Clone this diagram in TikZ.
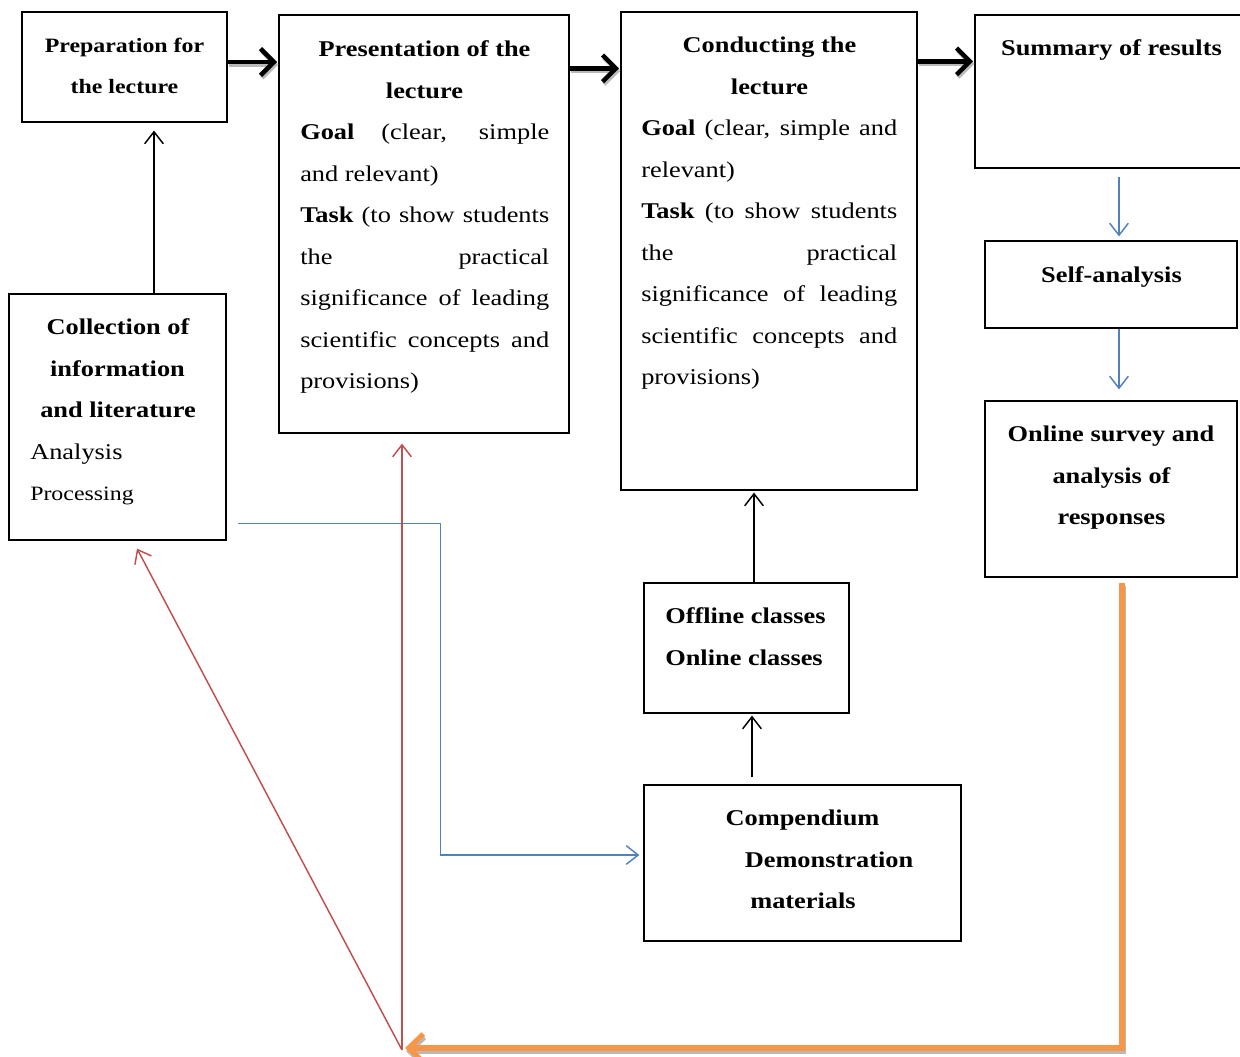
\documentclass[tikz,border=0pt]{standalone}
\usepackage{fontspec}
\setmainfont{Liberation Serif}[FakeStretch=1.17]
\usetikzlibrary{arrows.meta,calc,fit}
\definecolor{redl}{HTML}{C0504D}
\definecolor{bluel}{HTML}{4F81BD}
\definecolor{orangel}{HTML}{F79646}
\newcommand{\fbig}{\fontsize{16.9}{31}\selectfont}
\newcommand{\fsml}{\fontsize{15.3}{31}\selectfont}
\newcommand{\jl}[2]{\makebox[#1][s]{#2}}
\begin{document}
\begin{tikzpicture}[x=0.75pt,y=-0.75pt,
 box/.style={draw, line width=0.9pt, inner sep=0pt},
 ttl/.style={font=\fbig\bfseries, inner sep=0pt, anchor=base},
 ttls/.style={font=\fsml\bfseries, inner sep=0pt, anchor=base},
 bdy/.style={font=\fbig, inner sep=0pt, anchor=base west},
 bdys/.style={font=\fsml, inner sep=0pt, anchor=base west},
 bigarr/.style={line width=3.4pt, -{Straight Barb[length=10pt,width=20pt]}, shorten >=1pt},
 bigshadow/.style={bigarr, draw=gray!55, transform canvas={xshift=1pt,yshift=-1.8pt}},
 thinarr/.style={line width=1.1pt, -{Straight Barb[length=9pt,width=14pt]}},
 redarr/.style={thinarr, draw=redl},
 bluearr/.style={thinarr, draw=bluel},
 orangearr/.style={line width=3.8pt, draw=orangel, -{Straight Barb[length=11pt,width=21pt]}},
 orangeshadow/.style={orangearr, draw=gray!55, transform canvas={xshift=0.8pt,yshift=-2.4pt}}
]
\useasboundingbox (0,0) rectangle (1240,1057);

% boxes
\node[box, fit={(22,12) (227,122)}] (prep) {};
\node[box, fit={(279,15) (569,433)}] (pres) {};
\node[box, fit={(621,12) (917,490)}] (cond) {};
\node[box, fit={(975,15) (1263,168)}] (summ) {};
\node[box, fit={(985,241) (1237,328)}] (self) {};
\node[box, fit={(985,401) (1237,577)}] (online) {};
\node[box, fit={(9,294) (226,540)}] (coll) {};
\node[box, fit={(644,583) (849,713)}] (off) {};
\node[box, fit={(644,785) (961,941)}] (comp) {};

% texts: preparation
\node[ttls] (t1a) at (124.5,52.5) {Preparation for};
\node[ttls] (t1b) at (124.5,93.5) {the lecture};

% presentation
\node[ttl] (t2a) at (424.5,56.5) {Presentation of the};
\node[ttl] (t2b) at (424.5,98) {lecture};
\node[bdy] (t2c) at (300,139.5) {\jl{186.75pt}{\textbf{Goal} (clear, simple}};
\node[bdy] (t2d) at (300,181) {and relevant)};
\node[bdy] (t2e) at (300,222.5) {\jl{186.75pt}{\textbf{Task} (to show students}};
\node[bdy] (t2f) at (300,264) {\jl{186.75pt}{the practical}};
\node[bdy] (t2g) at (300,305.5) {\jl{186.75pt}{significance of leading}};
\node[bdy] (t2h) at (300,347) {\jl{186.75pt}{scientific concepts and}};
\node[bdy] (t2i) at (300,388.5) {provisions)};

% conducting
\node[ttl] (t3a) at (769.5,52.5) {Conducting the};
\node[ttl] (t3b) at (769.5,94) {lecture};
\node[bdy] (t3c) at (641,135.5) {\jl{192pt}{\textbf{Goal} (clear, simple and}};
\node[bdy] (t3d) at (641,177) {relevant)};
\node[bdy] (t3e) at (641,218.5) {\jl{192pt}{\textbf{Task} (to show students}};
\node[bdy] (t3f) at (641,260) {\jl{192pt}{the practical}};
\node[bdy] (t3g) at (641,301.5) {\jl{192pt}{significance of leading}};
\node[bdy] (t3h) at (641,343) {\jl{192pt}{scientific concepts and}};
\node[bdy] (t3i) at (641,384.5) {provisions)};

% summary, self-analysis, online survey
\node[ttl] (t4a) at (1111.5,55.5) {Summary of results};
\node[ttl] (t5a) at (1111.5,282.5) {Self-analysis};
\node[ttl] (t6a) at (1111,441.5) {Online survey and};
\node[ttl] (t6b) at (1111.5,483) {analysis of};
\node[ttl] (t6c) at (1111.5,524.5) {responses};

% collection
\node[ttl] (t7a) at (118,334.5) {Collection of};
\node[ttl] (t7b) at (117.5,376) {information};
\node[ttl] (t7c) at (118,417.5) {and literature};
\node[bdy] (t7d) at (30,459) {Analysis};
\node[bdys] (t7e) at (30,500) {Processing};

% offline / online
\node[ttl, anchor=base west] (t8a) at (665,623.5) {Offline classes};
\node[ttl, anchor=base west] (t8b) at (665,665) {Online classes};

% compendium
\node[ttl] (t9a) at (802.5,825.5) {Compendium};
\node[ttl] (t9b) at (829,867) {Demonstration};
\node[ttl] (t9c) at (803,908.5) {materials};

% coordinates for connectors
\coordinate (a1s) at ($(prep.east)+(0,-5)$);
\coordinate (a2s) at ($(pres.north east)+(0,54)$);
\coordinate (a3s) at ($(cond.north east)+(0,50)$);
\coordinate (cup) at ($(coll.north)+(36.5,0)$);
\coordinate (oup) at ($(off.north)+(7.5,0)$);
\coordinate (mup) at ($(comp.north)+(-50.5,-7)$);
\coordinate (rs) at (402,1050);
\coordinate (os) at ($(online.south)+(11,5)$);
\coordinate (bs) at ($(coll.south east)+(11,-17)$);

% thick black arrows with shadow
\draw[bigshadow] (a1s) -- (pres.west |- a1s);
\draw[bigarr] (a1s) -- (pres.west |- a1s);
\draw[bigshadow] (a2s) -- (cond.west |- a2s);
\draw[bigarr] (a2s) -- (cond.west |- a2s);
\draw[bigshadow] (a3s) -- (summ.west |- a3s);
\draw[bigarr] (a3s) -- (summ.west |- a3s);

% thin black arrows
\draw[thinarr] (cup) -- ($(prep.south -| cup)+(0,8)$);
\draw[thinarr] (oup) -- ($(cond.south -| oup)+(0,2)$);
\draw[thinarr] (mup) -- ($(off.south -| mup)+(0,2)$);

% blue arrows
\draw[bluearr] ($(summ.south)+(0,8)$) -- ($(self.north -| summ.south)+(0,-4)$);
\draw[bluearr] (self.south -| summ.south) -- ($(online.north -| summ.south)+(0,-11)$);
\draw[bluearr] (bs) -- ++(203,0) |- ($(comp.west)+(-4,-8)$);

% red arrows
\draw[redarr] (rs) -- ($(pres.south -| rs)+(0,10)$);
\draw[redarr] (rs) -- ($(coll.south)+(19.5,8)$);

% orange arrow with shadow
\draw[orangeshadow] (os) |- ($(rs)+(3,-2)$);
\draw[orangearr] (os) |- ($(rs)+(3,-2)$);
\end{tikzpicture}
\end{document}
